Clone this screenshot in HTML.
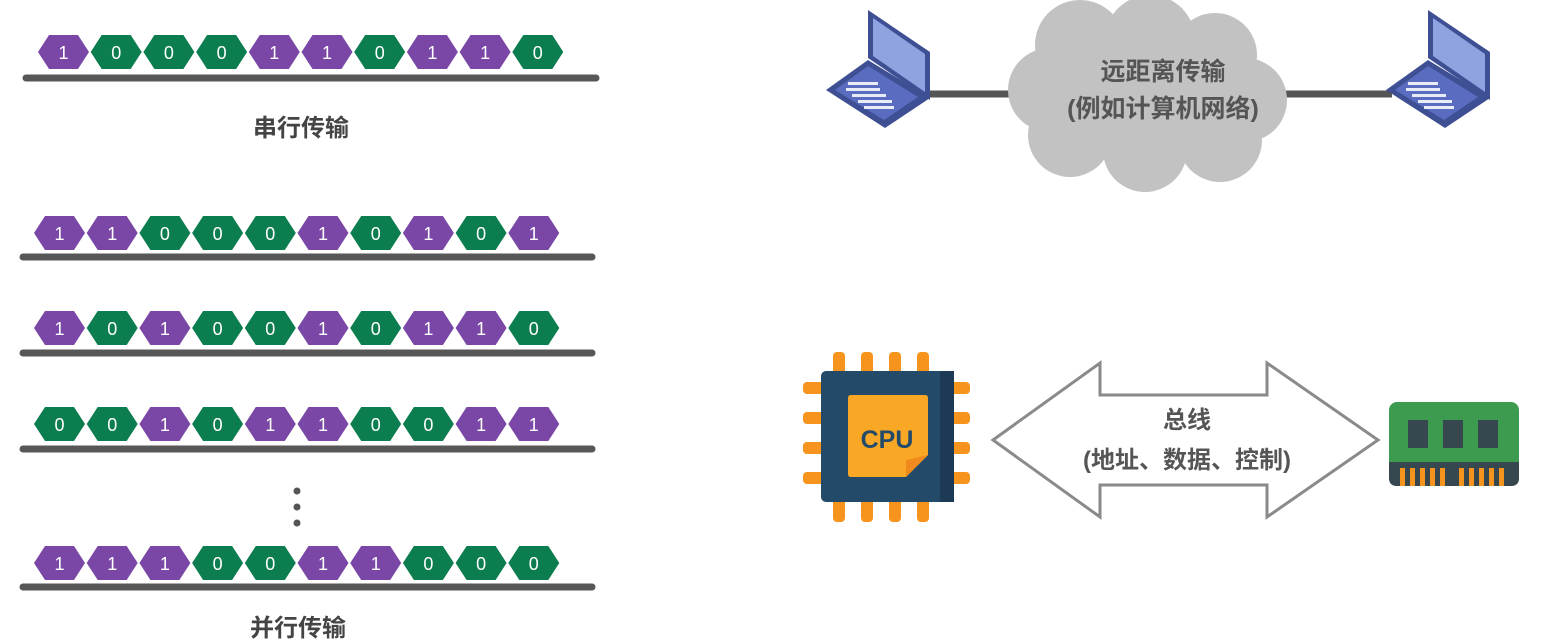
<!DOCTYPE html>
<html><head><meta charset="utf-8"><style>
html,body{margin:0;padding:0;background:#fff;width:1550px;height:643px;overflow:hidden}
svg text{font-family:"Liberation Sans","Noto Sans CJK SC",sans-serif}
</style></head><body>
<svg width="1550" height="643" viewBox="0 0 1550 643" xmlns="http://www.w3.org/2000/svg">
<defs>
<polygon id="h" points="0,17 11,0 40,0 51,17 40,34 11,34"/>
</defs>
<g font-size="18" fill="#fff" text-anchor="middle">
<g transform="translate(38,35)">
<use href="#h" x="0" fill="#7a47a6"/><use href="#h" x="52.7" fill="#0b7d4e"/><use href="#h" x="105.4" fill="#0b7d4e"/><use href="#h" x="158.1" fill="#0b7d4e"/><use href="#h" x="210.8" fill="#7a47a6"/><use href="#h" x="263.5" fill="#7a47a6"/><use href="#h" x="316.2" fill="#0b7d4e"/><use href="#h" x="368.9" fill="#7a47a6"/><use href="#h" x="421.6" fill="#7a47a6"/><use href="#h" x="474.3" fill="#0b7d4e"/>
<text x="25.5" y="24">1</text><text x="78.2" y="24">0</text><text x="130.9" y="24">0</text><text x="183.6" y="24">0</text><text x="236.3" y="24">1</text><text x="289" y="24">1</text><text x="341.7" y="24">0</text><text x="394.4" y="24">1</text><text x="447.1" y="24">1</text><text x="499.8" y="24">0</text>
</g>
<g transform="translate(34,216)">
<use href="#h" x="0" fill="#7a47a6"/><use href="#h" x="52.7" fill="#7a47a6"/><use href="#h" x="105.4" fill="#0b7d4e"/><use href="#h" x="158.1" fill="#0b7d4e"/><use href="#h" x="210.8" fill="#0b7d4e"/><use href="#h" x="263.5" fill="#7a47a6"/><use href="#h" x="316.2" fill="#0b7d4e"/><use href="#h" x="368.9" fill="#7a47a6"/><use href="#h" x="421.6" fill="#0b7d4e"/><use href="#h" x="474.3" fill="#7a47a6"/>
<text x="25.5" y="24">1</text><text x="78.2" y="24">1</text><text x="130.9" y="24">0</text><text x="183.6" y="24">0</text><text x="236.3" y="24">0</text><text x="289" y="24">1</text><text x="341.7" y="24">0</text><text x="394.4" y="24">1</text><text x="447.1" y="24">0</text><text x="499.8" y="24">1</text>
</g>
<g transform="translate(34,311)">
<use href="#h" x="0" fill="#7a47a6"/><use href="#h" x="52.7" fill="#0b7d4e"/><use href="#h" x="105.4" fill="#7a47a6"/><use href="#h" x="158.1" fill="#0b7d4e"/><use href="#h" x="210.8" fill="#0b7d4e"/><use href="#h" x="263.5" fill="#7a47a6"/><use href="#h" x="316.2" fill="#0b7d4e"/><use href="#h" x="368.9" fill="#7a47a6"/><use href="#h" x="421.6" fill="#7a47a6"/><use href="#h" x="474.3" fill="#0b7d4e"/>
<text x="25.5" y="24">1</text><text x="78.2" y="24">0</text><text x="130.9" y="24">1</text><text x="183.6" y="24">0</text><text x="236.3" y="24">0</text><text x="289" y="24">1</text><text x="341.7" y="24">0</text><text x="394.4" y="24">1</text><text x="447.1" y="24">1</text><text x="499.8" y="24">0</text>
</g>
<g transform="translate(34,407)">
<use href="#h" x="0" fill="#0b7d4e"/><use href="#h" x="52.7" fill="#0b7d4e"/><use href="#h" x="105.4" fill="#7a47a6"/><use href="#h" x="158.1" fill="#0b7d4e"/><use href="#h" x="210.8" fill="#7a47a6"/><use href="#h" x="263.5" fill="#7a47a6"/><use href="#h" x="316.2" fill="#0b7d4e"/><use href="#h" x="368.9" fill="#0b7d4e"/><use href="#h" x="421.6" fill="#7a47a6"/><use href="#h" x="474.3" fill="#7a47a6"/>
<text x="25.5" y="24">0</text><text x="78.2" y="24">0</text><text x="130.9" y="24">1</text><text x="183.6" y="24">0</text><text x="236.3" y="24">1</text><text x="289" y="24">1</text><text x="341.7" y="24">0</text><text x="394.4" y="24">0</text><text x="447.1" y="24">1</text><text x="499.8" y="24">1</text>
</g>
<g transform="translate(34,546)">
<use href="#h" x="0" fill="#7a47a6"/><use href="#h" x="52.7" fill="#7a47a6"/><use href="#h" x="105.4" fill="#7a47a6"/><use href="#h" x="158.1" fill="#0b7d4e"/><use href="#h" x="210.8" fill="#0b7d4e"/><use href="#h" x="263.5" fill="#7a47a6"/><use href="#h" x="316.2" fill="#7a47a6"/><use href="#h" x="368.9" fill="#0b7d4e"/><use href="#h" x="421.6" fill="#0b7d4e"/><use href="#h" x="474.3" fill="#0b7d4e"/>
<text x="25.5" y="24">1</text><text x="78.2" y="24">1</text><text x="130.9" y="24">1</text><text x="183.6" y="24">0</text><text x="236.3" y="24">0</text><text x="289" y="24">1</text><text x="341.7" y="24">1</text><text x="394.4" y="24">0</text><text x="447.1" y="24">0</text><text x="499.8" y="24">0</text>
</g>
</g>
<g stroke="#575757" stroke-width="7" stroke-linecap="round">
<line x1="26" y1="78" x2="596" y2="78"/>
<line x1="23" y1="257" x2="592" y2="257"/>
<line x1="23" y1="353" x2="592" y2="353"/>
<line x1="23" y1="449" x2="592" y2="449"/>
<line x1="23" y1="587" x2="592" y2="587"/>
</g>
<g fill="#555"><circle cx="297" cy="491" r="3.5"/><circle cx="297" cy="507" r="3.5"/><circle cx="297" cy="523" r="3.5"/></g>
<g font-size="24" font-weight="bold" fill="#444" text-anchor="middle">
<text x="301" y="136">串行传输</text>
<text x="298" y="636">并行传输</text>
</g>
<g stroke="#555" stroke-width="7"><line x1="925" y1="94" x2="1015" y2="94"/><line x1="1280" y1="94" x2="1392" y2="94"/></g>
<g fill="#c2c2c2">
<circle cx="1080" cy="45" r="45"/><circle cx="1150" cy="40" r="45"/><circle cx="1215" cy="55" r="42"/>
<circle cx="1050" cy="90" r="42"/><circle cx="1245" cy="100" r="42"/>
<circle cx="1070" cy="135" r="42"/><circle cx="1145" cy="150" r="42"/><circle cx="1220" cy="140" r="42"/>
<rect x="1040" y="40" width="210" height="120"/>
</g>
<g font-size="25" font-weight="bold" fill="#555" text-anchor="middle">
<text x="1163" y="80">远距离传输</text>
<text x="1163" y="117">(例如计算机网络)</text>
</g>
<g id="lap">
<polygon points="868,10 930,52 930,100 868,58" fill="#3e4f93"/>
<polygon points="873,18 925,54 925,92 873,56" fill="#8ea3e0"/>
<polygon points="826,90 868,60 930,98 885,128" fill="#3e4f93"/>
<polygon points="835,90 868,66 918,97 884,120" fill="#5a6cc0"/>
<g fill="#e8ecf8">
<rect x="848" y="82" width="30" height="3"/><rect x="846" y="88" width="34" height="3"/><rect x="852" y="94" width="34" height="3"/><rect x="858" y="100" width="34" height="3"/><rect x="864" y="106" width="30" height="3"/>
</g>
</g>
<use href="#lap" x="560"/>
<g fill="#f7941d">
<rect x="833" y="352" width="12" height="30" rx="4"/><rect x="861" y="352" width="12" height="30" rx="4"/><rect x="889" y="352" width="12" height="30" rx="4"/><rect x="917" y="352" width="12" height="30" rx="4"/>
<rect x="833" y="492" width="12" height="30" rx="4"/><rect x="861" y="492" width="12" height="30" rx="4"/><rect x="889" y="492" width="12" height="30" rx="4"/><rect x="917" y="492" width="12" height="30" rx="4"/>
<rect x="803" y="382" width="30" height="12" rx="4"/><rect x="803" y="412" width="30" height="12" rx="4"/><rect x="803" y="442" width="30" height="12" rx="4"/><rect x="803" y="472" width="30" height="12" rx="4"/>
<rect x="940" y="382" width="30" height="12" rx="4"/><rect x="940" y="412" width="30" height="12" rx="4"/><rect x="940" y="442" width="30" height="12" rx="4"/><rect x="940" y="472" width="30" height="12" rx="4"/>
</g>
<rect x="821" y="371" width="133" height="131" rx="5" fill="#244a6a"/>
<rect x="940" y="371" width="14" height="131" fill="#1c3a55"/>
<path d="M848 398 Q848 395 851 395 L925 395 Q928 395 928 398 L928 455 L906 477 L851 477 Q848 477 848 474 Z" fill="#f9a825"/>
<path d="M928 455 L906 477 L906 460 Z" fill="#f08a1c"/>
<text x="887" y="448" font-size="25" font-weight="bold" fill="#244a6a" text-anchor="middle" style="font-family:'Liberation Sans Narrow','Liberation Sans',sans-serif">CPU</text>
<polygon points="993,440 1100,363 1100,395 1267,395 1267,363 1378,440 1267,517 1267,485 1100,485 1100,517" fill="#fff" stroke="#8a8a8a" stroke-width="3"/>
<g font-size="24" font-weight="bold" fill="#555" text-anchor="middle">
<text x="1187" y="428">总线</text>
<text x="1187" y="468">(地址、数据、控制)</text>
</g>
<rect x="1389" y="402" width="130" height="84" rx="8" fill="#3d9b50"/>
<path d="M1389 462 L1519 462 L1519 478 Q1519 486 1511 486 L1397 486 Q1389 486 1389 478 Z" fill="#37474f"/>
<rect x="1408" y="420" width="20" height="28" fill="#37474f"/><rect x="1443" y="420" width="20" height="28" fill="#37474f"/><rect x="1478" y="420" width="20" height="28" fill="#37474f"/>
<g fill="#f7941d">
<rect x="1400" y="468" width="5" height="18"/><rect x="1410" y="468" width="5" height="18"/><rect x="1420" y="468" width="5" height="18"/><rect x="1430" y="468" width="5" height="18"/><rect x="1440" y="468" width="5" height="18"/>
<rect x="1459" y="468" width="5" height="18"/><rect x="1469" y="468" width="5" height="18"/><rect x="1479" y="468" width="5" height="18"/><rect x="1489" y="468" width="5" height="18"/><rect x="1499" y="468" width="5" height="18"/>
</g>
</svg>
</body></html>
